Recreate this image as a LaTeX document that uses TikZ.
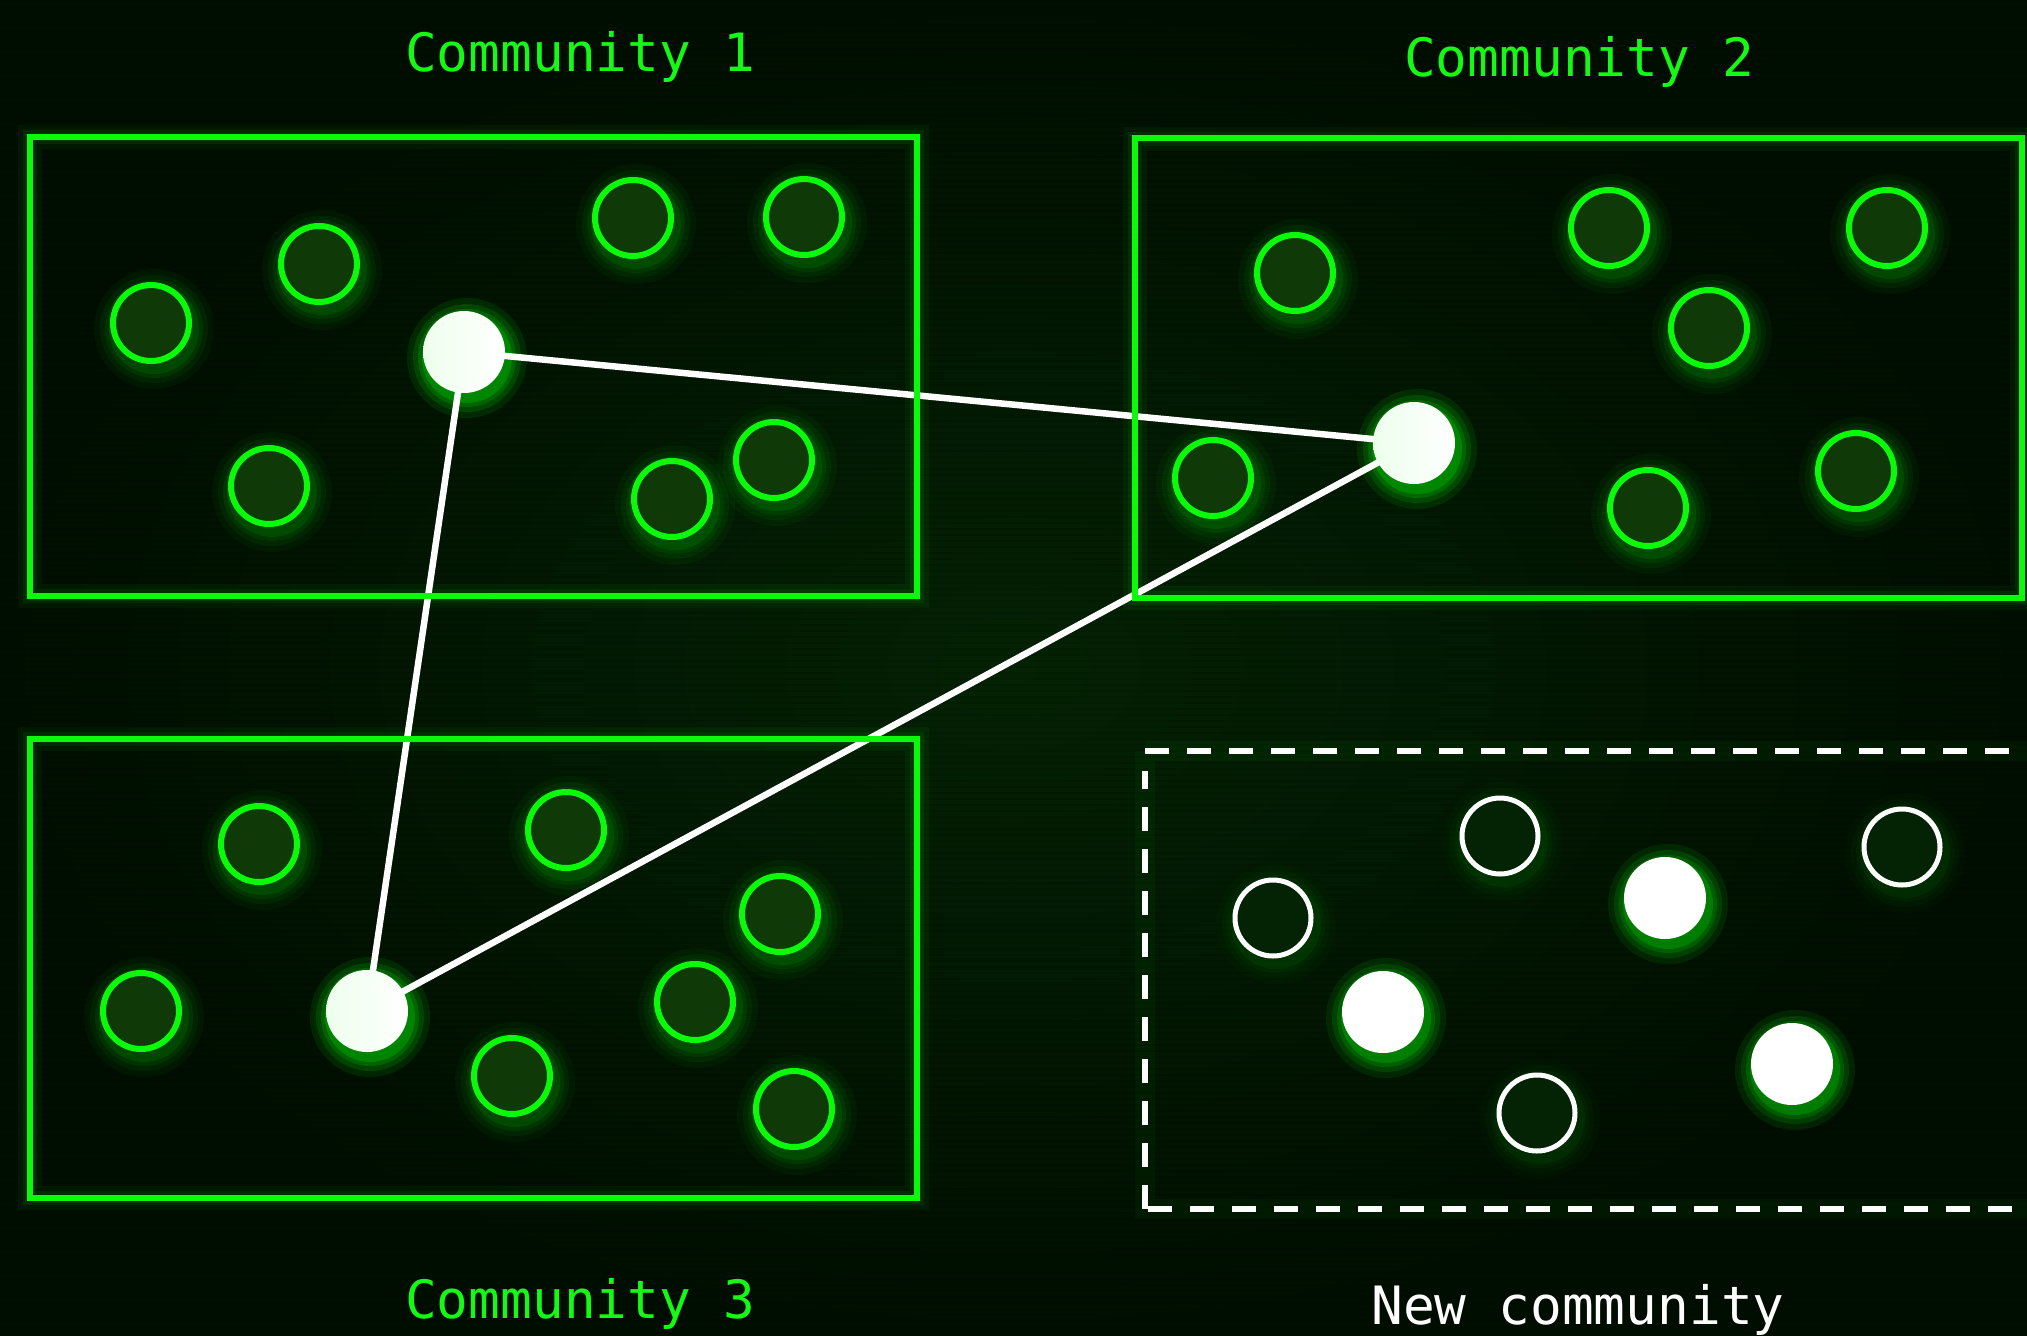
\documentclass[tikz,border=0pt]{standalone}
\usepackage{fontspec}
\newfontfamily\monof{DejaVu Sans Mono}
\definecolor{bgc}{RGB}{2,24,2}
\definecolor{bgin}{RGB}{4,34,4}
\definecolor{bgout}{RGB}{0,14,0}
\definecolor{gline}{RGB}{10,250,10}
\definecolor{gfill}{RGB}{15,58,8}
\definecolor{hfill}{RGB}{4,34,4}
\definecolor{glowc}{RGB}{0,210,0}
\definecolor{txtg}{RGB}{20,250,20}
\pgfdeclarelayer{back}
\pgfdeclarelayer{glow}
\pgfdeclarelayer{edges}
\pgfsetlayers{back,glow,edges,main}
\tikzset{
  gnode/.style={circle, draw=gline, line width=6pt, fill=gfill, minimum size=76pt, inner sep=0pt},
  hubnode/.style={circle, left color=green!7!white, right color=white, minimum size=82pt, inner sep=0pt},
  hollownode/.style={circle, draw=white, line width=5pt, fill=hfill, minimum size=76pt, inner sep=0pt},
  whitenode/.style={circle, fill=white, minimum size=82pt, inner sep=0pt},
  cbox/.style={rectangle, draw=gline, line width=6pt, minimum width=887pt, minimum height=459pt, inner sep=0pt},
  boxglow/.style={rectangle, draw=gline, inner sep=0pt, minimum width=887pt, minimum height=459pt},
  edge/.style={draw=white, line width=6.5pt},
  lbl/.style={font=\monof\fontsize{52.8}{60}\selectfont, inner sep=0pt},
}
\newcommand\dotnode[5]{%
  \begin{pgfonlayer}{glow}
    \foreach \rr/\oo in {60/0.05,54/0.07,49/0.09,45/0.13}{%
      \pgfmathsetmacro\opv{\oo*#5}%
      \fill[glowc, opacity=\opv] (#3+3,#4+6) circle[radius=\rr pt];}
  \end{pgfonlayer}
  \node[#2] (#1) at (#3,#4) {};
}
\begin{document}
\begin{tikzpicture}[x=1pt,y=-1pt]
\useasboundingbox (0,0) rectangle (2027,1336);
\clip (0,0) rectangle (2027,1336);
\begin{pgfonlayer}{back}
  \shade[inner color=bgin, outer color=bgout] (0,0) rectangle (2027,1336);
  \foreach \yy in {0,6,...,1332}{\fill[black, opacity=0.10] (0,\yy) rectangle (2027,\yy+2);}
  % box glows
  \foreach \cx/\cy in {473.5/366.5, 1578.5/368, 473.5/968.5}{
    \node[boxglow, line width=24pt, draw opacity=0.05] at (\cx,\cy) {};
    \node[boxglow, line width=14pt, draw opacity=0.08] at (\cx,\cy) {};
  }
  \draw[glowc, line width=20pt, opacity=0.05] (1145,751) -- (2040,751) (1145,751) -- (1145,1209) -- (2040,1209);
\end{pgfonlayer}

% community boxes
\node[cbox] (box1) at (473.5,366.5) {};
\node[cbox, minimum height=460pt] (box2) at (1578.5,368) {};
\node[cbox] (box3) at (473.5,968.5) {};
% new community dashed box
\draw[white, line width=6pt, dash pattern=on 24pt off 18pt]
  (1145,751) -- (2060,751);
\draw[white, line width=6pt, dash pattern=on 24pt off 18pt]
  (1145,1209) -- (1145,771);
\draw[white, line width=6pt, dash pattern=on 24pt off 18pt]
  (1148,1209) -- (2060,1209);

% labels
\node[lbl, text=txtg] (t1) at (580,57) {Community 1};
\node[lbl, text=txtg] (t2) at (1579,62) {Community 2};
\node[lbl, text=txtg] (t3) at (580,1304) {Community 3};
\node[lbl, text=white] (t4) at (1578,1310) {New community};

% community 1
\dotnode{a1}{gnode}{151}{323}{1}
\dotnode{a2}{gnode}{319}{264}{1}
\dotnode{a3}{gnode}{633}{218}{1}
\dotnode{a4}{gnode}{804}{217}{1}
\dotnode{a5}{gnode}{269}{486}{1}
\dotnode{a6}{gnode}{672}{499}{1}
\dotnode{a7}{gnode}{774}{460}{1}
\dotnode{h1}{hubnode}{464}{352}{2.4}
% community 2
\dotnode{b1}{gnode}{1295}{273}{1}
\dotnode{b2}{gnode}{1609}{228}{1}
\dotnode{b3}{gnode}{1887}{228}{1}
\dotnode{b4}{gnode}{1709}{328}{1}
\dotnode{b5}{gnode}{1213}{478}{1}
\dotnode{b6}{gnode}{1648}{508}{1}
\dotnode{b7}{gnode}{1856}{471}{1}
\dotnode{h2}{hubnode}{1414}{443}{2.4}
% community 3
\dotnode{c1}{gnode}{259}{844}{1}
\dotnode{c2}{gnode}{566}{830}{1}
\dotnode{c3}{gnode}{780}{914}{1}
\dotnode{c4}{gnode}{141}{1011}{1}
\dotnode{c5}{gnode}{695}{1002}{1}
\dotnode{c6}{gnode}{512}{1076}{1}
\dotnode{c7}{gnode}{794}{1109}{1}
\dotnode{h3}{hubnode}{367}{1011}{2.4}
% new community
\dotnode{n1}{hollownode}{1273}{918}{0.5}
\dotnode{n2}{hollownode}{1500}{836}{0.5}
\dotnode{n3}{hollownode}{1902}{847}{0.5}
\dotnode{n4}{hollownode}{1537}{1113}{0.5}
\dotnode{n5}{whitenode}{1665}{898}{2.2}
\dotnode{n6}{whitenode}{1383}{1012}{2.2}
\dotnode{n7}{whitenode}{1792}{1064}{2.2}

% edges
\begin{pgfonlayer}{edges}
  \draw[edge] (h1.center) -- (h2.center);
  \draw[edge] (h1.center) -- (h3.center);
  \draw[edge] (h3.center) -- (h2.center);
\end{pgfonlayer}
\end{tikzpicture}
\end{document}
